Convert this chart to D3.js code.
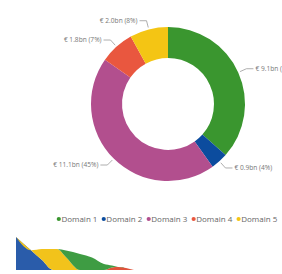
<!DOCTYPE html>
<html><head><meta charset="utf-8">
<script src="https://cdn.jsdelivr.net/npm/d3@7"></script>
<style>html,body{margin:0;padding:0;background:#fff;overflow:hidden}</style>
</head><body>
<svg id="c" width="282" height="274"></svg>
<script>
// Donut data (€ bn)
const categories = ["Domain 1","Domain 2","Domain 3","Domain 4","Domain 5"];
const values = [9.1, 0.9, 11.1, 1.8, 2.0];
const labels = ["€ 9.1bn (36%)","€ 0.9bn (4%)","€ 11.1bn (45%)","€ 1.8bn (7%)","€ 2.0bn (8%)"];
const colors = ["#3a962f","#0c4c9e","#b24f8e","#e9573f","#f4c514"];

// Partial second chart at the bottom (stacked areas, cut off by the window)
const bx = [0, 15, 26, 37, 41, 50, 64, 76, 88, 96, 102, 110, 118];
const blueS   = [33, 19.7, 9.9, 0, 0, 0, 0, 0, 0, 0, 0, 0, 0];
const yellowS = [0, 0, 11.1, 21, 21, 12.8, 0, 0, 0, 0, 0, 0, 0];
const redS    = [0, 0, 0, 0, 0, 0, 0, 0, 0, 2.5, 3, 2, 0];
const greenS  = [0, 0, 0, 0, 0, 6.7, 16, 12.5, 6, 2, 0, 0, 0];
const bottomColors = ["#2a5caa","#f2c31b","#e0533b","#3e9c43"];

const svg = d3.select("#c");
const cx = 168, cy = 104, rO = 77, rI = 46;
const g = svg.append("g").attr("transform", `translate(${cx},${cy})`);
const pie = d3.pie().sort(null).value(d => d)(values);
const arc = d3.arc().innerRadius(rI).outerRadius(rO);
g.selectAll("path.s").data(pie).join("path").attr("class","s")
  .attr("d", arc).attr("fill", (d,i) => colors[i]);

pie.forEach((d,i) => {
  const a = (d.startAngle + d.endAngle)/2;
  const s = Math.sin(a), c = -Math.cos(a);
  const A = [ (rO+2)*s, (rO+2)*c ];
  const B = [ (rO+9)*s, (rO+9)*c ];
  const dir = s >= 0 ? 1 : -1;
  const C = [ B[0] + dir*7, B[1] ];
  g.append("path").attr("d", d3.line()([A,B,C]))
    .attr("fill","none").attr("stroke","#999").attr("stroke-width",0.8);
  g.append("text").attr("x", C[0] + dir*2).attr("y", C[1])
    .attr("dy","0.35em").attr("text-anchor", dir>0 ? "start" : "end")
    .attr("font-family","'Open Sans', sans-serif").attr("font-size",6.6)
    .attr("fill","#777").text(labels[i]);
});

// Legend
const lg = svg.append("g").attr("transform","translate(57,219)");
let x = 0;
categories.forEach((cat,i) => {
  lg.append("circle").attr("cx", x+1.8).attr("cy", 0).attr("r", 2.1).attr("fill", colors[i]);
  const t = lg.append("text").attr("x", x+4.4).attr("y", 0).attr("dy","0.35em")
    .attr("font-family","'Open Sans', sans-serif").attr("font-size",8)
    .attr("fill","#666").text(cat);
  x += 4.4 + t.node().getComputedTextLength() + 4.5;
});

// Bottom partial stacked area
const rows = bx.map((v,i) => ({x:v, blue:blueS[i], yellow:yellowS[i], red:redS[i], green:greenS[i]}));
const keys = ["blue","yellow","red","green"];
const st = d3.stack().keys(keys)(rows);
const xs = d3.scaleLinear().domain([0,118]).range([16,134]);
const ys = d3.scaleLinear().domain([0,33]).range([270,237]);
const area = d3.area().x(d => xs(d.data.x)).y0(d => ys(d[0])).y1(d => ys(d[1])).curve(d3.curveMonotoneX);
svg.append("g").selectAll("path").data(st).join("path")
  .attr("d", area).attr("fill", (d,i) => bottomColors[i]);
</script>
</body></html>
